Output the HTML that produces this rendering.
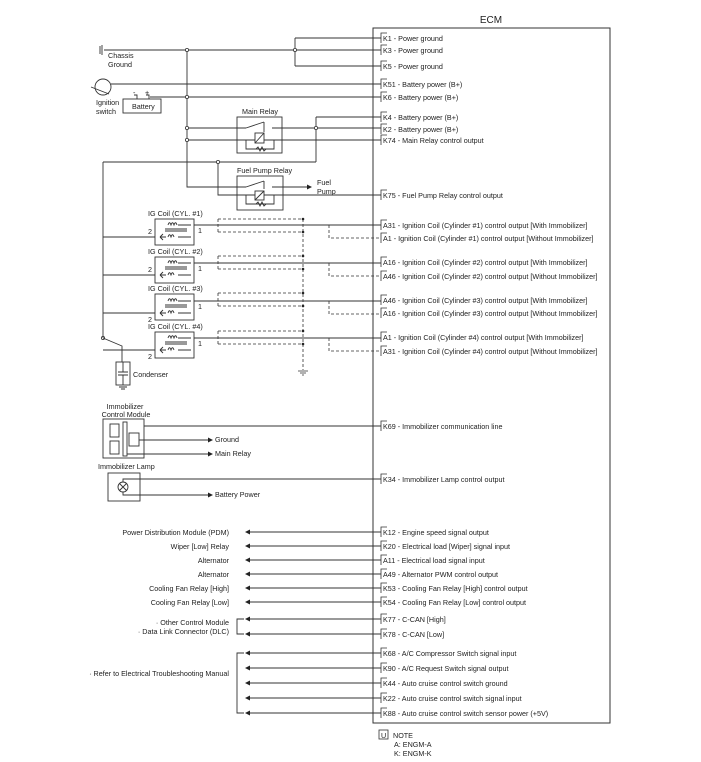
<!DOCTYPE html>
<html><head><meta charset="utf-8"><style>
body{margin:0;background:#fff}
svg{display:block}
text{font-family:"Liberation Sans",sans-serif;font-size:7.2px;fill:#222}
</style></head><body>
<svg width="701" height="762" viewBox="0 0 701 762" xmlns="http://www.w3.org/2000/svg">
<g stroke="#333" stroke-width="1" fill="none">
<rect x="373" y="28" width="237" height="695"/>
</g>
<text x="491" y="23" text-anchor="middle" style="font-size:10px">ECM</text>

<g stroke="#333" fill="none" stroke-width="0.8">
<path d="M387,33h-6v10 M387,45h-6v10 M387,61h-6v10 M387,79h-6v10 M387,92h-6v10 M387,112h-6v10 M387,124h-6v10 M387,135h-6v10 M387,190h-6v10
M387,220h-6v10 M387,233h-6v10 M387,257h-6v10 M387,271h-6v10 M387,295h-6v10 M387,308h-6v10 M387,332h-6v10 M387,346h-6v10
M387,421h-6v10 M387,474h-6v10 M387,527h-6v10 M387,541h-6v10 M387,555h-6v10 M387,569h-6v10 M387,583h-6v10 M387,597h-6v10 M387,614h-6v10 M387,629h-6v10 M387,648h-6v10 M387,663h-6v10 M387,678h-6v10 M387,693h-6v10 M387,708h-6v10"/>
</g>
<g>
<text x="383" y="41">K1 - Power ground</text>
<text x="383" y="53">K3 - Power ground</text>
<text x="383" y="69">K5 - Power ground</text>
<text x="383" y="87">K51 - Battery power (B+)</text>
<text x="383" y="100">K6 - Battery power (B+)</text>
<text x="383" y="120">K4 - Battery power (B+)</text>
<text x="383" y="132">K2 - Battery power (B+)</text>
<text x="383" y="143">K74 - Main Relay control output</text>
<text x="383" y="198">K75 - Fuel Pump Relay control output</text>
<text x="383" y="228">A31 - Ignition Coil (Cylinder #1) control output [With Immobilizer]</text>
<text x="383" y="241">A1 - Ignition Coil (Cylinder #1) control output [Without Immobilizer]</text>
<text x="383" y="265">A16 - Ignition Coil (Cylinder #2) control output [With Immobilizer]</text>
<text x="383" y="279">A46 - Ignition Coil (Cylinder #2) control output [Without Immobilizer]</text>
<text x="383" y="303">A46 - Ignition Coil (Cylinder #3) control output [With Immobilizer]</text>
<text x="383" y="316">A16 - Ignition Coil (Cylinder #3) control output [Without Immobilizer]</text>
<text x="383" y="340">A1 - Ignition Coil (Cylinder #4) control output [With Immobilizer]</text>
<text x="383" y="354">A31 - Ignition Coil (Cylinder #4) control output [Without Immobilizer]</text>
<text x="383" y="429">K69 - Immobilizer communication line</text>
<text x="383" y="482">K34 - Immobilizer Lamp control output</text>
<text x="383" y="535">K12 - Engine speed signal output</text>
<text x="383" y="549">K20 - Electrical load [Wiper] signal input</text>
<text x="383" y="563">A11 - Electrical load signal input</text>
<text x="383" y="577">A49 - Alternator PWM control output</text>
<text x="383" y="591">K53 - Cooling Fan Relay [High] control output</text>
<text x="383" y="605">K54 - Cooling Fan Relay [Low] control output</text>
<text x="383" y="622">K77 - C-CAN [High]</text>
<text x="383" y="637">K78 - C-CAN [Low]</text>
<text x="383" y="656">K68 - A/C Compressor Switch signal input</text>
<text x="383" y="671">K90 - A/C Request Switch signal output</text>
<text x="383" y="686">K44 - Auto cruise control switch ground</text>
<text x="383" y="701">K22 - Auto cruise control switch signal input</text>
<text x="383" y="716">K88 - Auto cruise control switch sensor power (+5V)</text>
</g>

<g stroke="#333" stroke-width="0.9" fill="none">
<path d="M104,50H381 M295,38V66 M295,38H381 M295,66H381"/>
<path d="M100,46v8 M102,45v10"/>
<path d="M111,84H381"/>
<circle cx="103" cy="87" r="8"/>
<path d="M91,87l18,7"/>
<path d="M150,97H381"/>
<rect x="123" y="99" width="38" height="14"/>
<path d="M134,95h3v4 M146,95h3v4"/>
<path d="M187,50V187H246"/>
<path d="M187,128H246 M187,140H246"/>
<rect x="237" y="117" width="45" height="36"/>
<path d="M246,128l18,-6 M264,122v10 M272,128H316 M316,117V162 M316,117H381 M316,128H381"/>
<rect x="255" y="133" width="9" height="10"/>
<path d="M255,143l9,-10 M246,140h9 M264,140h10 M246,140v9h28v-9 M256,149l2,-2l2,4l2,-4l2,4l2,-2"/>
<path d="M274,140H381"/>
<path d="M103,162H316 M218,162V195H246"/>
<rect x="237" y="176" width="46" height="34"/>
<path d="M246,187l18,-6 M264,181v8 M272,187H310"/>
<rect x="255" y="191" width="9" height="9"/>
<path d="M255,200l9,-9 M246,195h9 M264,195h10 M246,195v9h28v-9 M256,204l2,-2l2,4l2,-4l2,4l2,-2"/>
<path d="M274,195H381"/>
</g>
<g fill="#fff" stroke="#333" stroke-width="0.8">
<circle cx="295" cy="50" r="1.6"/><circle cx="187" cy="50" r="1.6"/><circle cx="187" cy="97" r="1.6"/>
<circle cx="187" cy="128" r="1.6"/><circle cx="187" cy="140" r="1.6"/><circle cx="316" cy="128" r="1.6"/>
<circle cx="218" cy="162" r="1.6"/><circle cx="103" cy="338" r="1.6"/>
</g>
<path d="M312,187l-5,-2.5v5z" fill="#222"/>
<text x="108" y="58">Chassis</text><text x="108" y="67">Ground</text>
<text x="96" y="105">Ignition</text><text x="96" y="114">switch</text>
<text x="132" y="109">Battery</text>
<text x="133" y="95">-</text><text x="145" y="95">+</text>
<text x="242" y="114">Main Relay</text>
<text x="237" y="173">Fuel Pump Relay</text>
<text x="317" y="185">Fuel</text><text x="317" y="194">Pump</text>

<g stroke="#333" stroke-width="0.9" fill="none">
<path d="M103,162V338 M103,338l19,8V362"/>
<rect x="116" y="362" width="14" height="23"/>
<path d="M118,372h10 M118,375h10 M123,362v10 M123,375v10 M119,387h8 M121,389h4"/>
<path d="M155,237H103 M155,275H103 M155,313H103 M155,350H103"/>
<rect x="155" y="219" width="39" height="26"/>
<rect x="155" y="257" width="39" height="26"/>
<rect x="155" y="294" width="39" height="26"/>
<rect x="155" y="332" width="39" height="26"/>
<path d="M194,225H381 M194,263H381 M194,301H381 M194,338H381"/>
<path d="M178,225h13 M178,237h13 M160,237h6 M165,229h22 M165,231h22 M178,263h13 M178,275h13 M160,275h6 M165,267h22 M165,269h22 M178,301h13 M178,313h13 M160,313h6 M165,305h22 M165,307h22 M178,338h13 M178,350h13 M160,350h6 M165,342h22 M165,344h22"/>
<path d="M160,237l3,-3 M160,237l3,3 M160,275l3,-3 M160,275l3,3 M160,313l3,-3 M160,313l3,3 M160,350l3,-3 M160,350l3,3"/>
<path d="M168,225c1,-3 2,-3 3,0c1,-3 2,-3 3,0c1,-3 2,-3 3,0 M168,237c1,-3 2,-3 3,0c1,-3 2,-3 3,0 M168,263c1,-3 2,-3 3,0c1,-3 2,-3 3,0c1,-3 2,-3 3,0 M168,275c1,-3 2,-3 3,0c1,-3 2,-3 3,0 M168,301c1,-3 2,-3 3,0c1,-3 2,-3 3,0c1,-3 2,-3 3,0 M168,313c1,-3 2,-3 3,0c1,-3 2,-3 3,0 M168,338c1,-3 2,-3 3,0c1,-3 2,-3 3,0c1,-3 2,-3 3,0 M168,350c1,-3 2,-3 3,0c1,-3 2,-3 3,0"/>
</g>
<g stroke="#333" stroke-width="0.8" fill="none" stroke-dasharray="3,2">
<path d="M218,219H303 M218,232H303 M218,256H303 M218,269H303 M218,293H303 M218,306H303 M218,331H303 M218,344H303"/>
<path d="M218,219v13 M218,256v13 M218,293v13 M218,331v13"/>
<path d="M303,219V370"/>
<path d="M329,225v13H381 M329,263v13H381 M329,301v13H381 M329,338v13H381"/>
</g>
<g fill="#222">
<circle cx="303" cy="219" r="1.3"/><circle cx="303" cy="232" r="1.3"/><circle cx="303" cy="256" r="1.3"/><circle cx="303" cy="269" r="1.3"/>
<circle cx="303" cy="293" r="1.3"/><circle cx="303" cy="306" r="1.3"/><circle cx="303" cy="331" r="1.3"/><circle cx="303" cy="344" r="1.3"/>
</g>
<path d="M298,371h10 M300,373h6 M302,375h2" stroke="#333" stroke-width="0.8"/>
<text x="148" y="216">IG Coil (CYL. #1)</text>
<text x="148" y="254">IG Coil (CYL. #2)</text>
<text x="148" y="291">IG Coil (CYL. #3)</text>
<text x="148" y="329">IG Coil (CYL. #4)</text>
<text x="148" y="234">2</text><text x="198" y="233">1</text>
<text x="148" y="272">2</text><text x="198" y="271">1</text>
<text x="148" y="322">2</text><text x="198" y="309">1</text>
<text x="148" y="359">2</text><text x="198" y="346">1</text>
<text x="133" y="377">Condenser</text>

<g stroke="#333" stroke-width="0.9" fill="none">
<rect x="103" y="419" width="41" height="39"/>
<rect x="110" y="424" width="9" height="13"/><rect x="110" y="441" width="9" height="13"/>
<rect x="123" y="422" width="4" height="34"/><rect x="129" y="433" width="10" height="13"/>
<path d="M144,426H381 M139,440H210 M127,454H210"/>
<rect x="108" y="473" width="32" height="28"/>
<circle cx="123" cy="487" r="5"/><path d="M119.5,483.5l7,7 M126.5,483.5l-7,7"/>
<path d="M123,482v-3H381 M123,492v3H210"/>
</g>
<g fill="#222"><path d="M213,440l-5,-2.5v5z M213,454l-5,-2.5v5z M213,495l-5,-2.5v5z"/></g>
<text x="125" y="409" text-anchor="middle">Immobilizer</text>
<text x="126" y="417" text-anchor="middle">Control Module</text>
<text x="98" y="469">Immobilizer Lamp</text>
<text x="215" y="442">Ground</text><text x="215" y="456">Main Relay</text><text x="215" y="497">Battery Power</text>

<g stroke="#333" stroke-width="0.9" fill="none">
<path d="M250,532H381 M250,546H381 M250,560H381 M250,574H381 M250,588H381 M250,602H381 M250,619H381 M250,634H381 M250,653H381 M250,668H381 M250,683H381 M250,698H381 M250,713H381"/>
<path d="M244,619h-7v15h7 M244,653h-7v60h7"/>
</g>
<g fill="#222">
<path d="M245,532l5,-2.5v5z M245,546l5,-2.5v5z M245,560l5,-2.5v5z M245,574l5,-2.5v5z M245,588l5,-2.5v5z M245,602l5,-2.5v5z M245,619l5,-2.5v5z M245,634l5,-2.5v5z M245,653l5,-2.5v5z M245,668l5,-2.5v5z M245,683l5,-2.5v5z M245,698l5,-2.5v5z M245,713l5,-2.5v5z"/>
</g>
<g text-anchor="end">
<text x="229" y="535">Power Distribution Module (PDM)</text>
<text x="229" y="549">Wiper [Low] Relay</text>
<text x="229" y="563">Alternator</text>
<text x="229" y="577">Alternator</text>
<text x="229" y="591">Cooling Fan Relay [High]</text>
<text x="229" y="605">Cooling Fan Relay [Low]</text>
<text x="229" y="625">· Other Control Module</text>
<text x="229" y="634">· Data Link Connector (DLC)</text>
<text x="229" y="676">· Refer to Electrical Troubleshooting Manual</text>
</g>
<rect x="379" y="730" width="9" height="9" fill="none" stroke="#333" stroke-width="0.8"/>
<text x="381" y="738">U</text>
<text x="393" y="738">NOTE</text>
<text x="394" y="747">A: ENGM-A</text>
<text x="394" y="756">K: ENGM-K</text>
</svg>
</body></html>
